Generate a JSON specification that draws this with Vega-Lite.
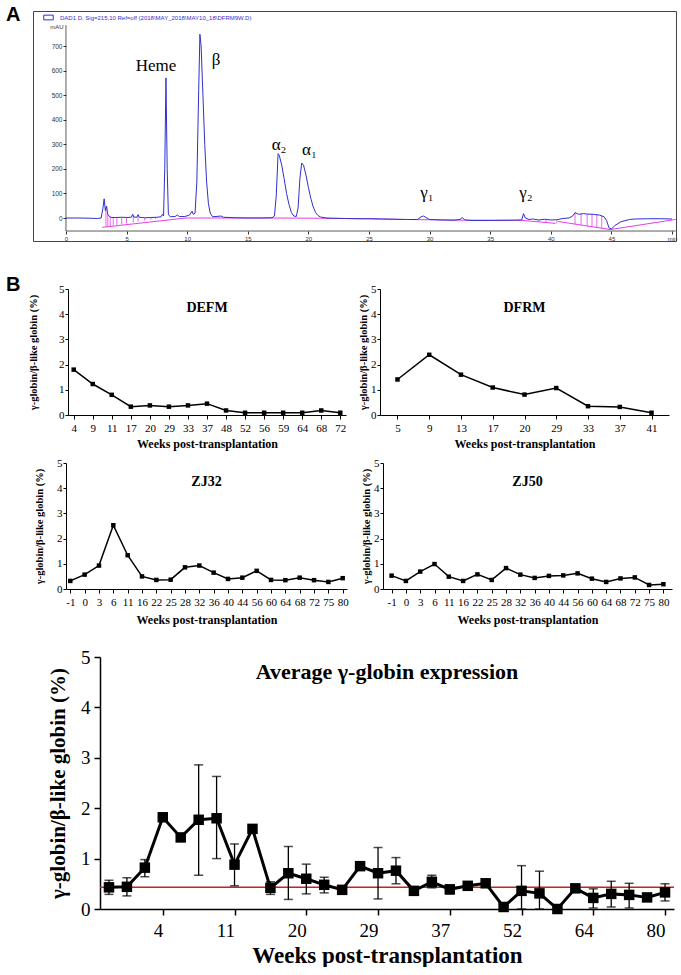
{
  "$schema": "https://vega.github.io/schema/vega-lite/v6.json",
  "padding": {"left": 6, "top": 5, "right": 0, "bottom": 0},
  "background": "white",
  "config": {
    "view": {"stroke": null},
    "font": "Liberation Serif",
    "axis": {"grid": false, "domainColor": "#000", "tickColor": "#000", "labelColor": "#000", "titleColor": "#000", "labelOverlap": false, "labelFlush": false}
  },
  "datasets": {
    "chrom": [
      {"t":0,"v":0},{"t":1,"v":0},{"t":2,"v":-1},{"t":2.6,"v":-2},{"t":2.9,"v":0},{"t":3.05,"v":40},{"t":3.15,"v":78},{"t":3.25,"v":30},{"t":3.35,"v":48},{"t":3.45,"v":15},{"t":3.6,"v":5},{"t":3.8,"v":2},{"t":4.2,"v":2},{"t":4.6,"v":3},{"t":5.0,"v":2},{"t":5.4,"v":3},{"t":5.5,"v":15},{"t":5.6,"v":4},{"t":5.85,"v":3},{"t":5.95,"v":14},{"t":6.05,"v":3},{"t":6.5,"v":1},{"t":7.0,"v":2},{"t":7.5,"v":3},{"t":7.85,"v":5},{"t":7.95,"v":15},{"t":8.05,"v":8},{"t":8.15,"v":200},{"t":8.25,"v":570},{"t":8.35,"v":200},{"t":8.45,"v":15},{"t":8.6,"v":5},{"t":9.0,"v":6},{"t":9.2,"v":12},{"t":9.35,"v":6},{"t":9.8,"v":6},{"t":10.2,"v":12},{"t":10.4,"v":28},{"t":10.5,"v":15},{"t":10.65,"v":20},{"t":10.8,"v":150},{"t":10.95,"v":520},{"t":11.05,"v":748},{"t":11.15,"v":700},{"t":11.3,"v":500},{"t":11.45,"v":300},{"t":11.6,"v":150},{"t":11.75,"v":60},{"t":11.9,"v":20},{"t":12.1,"v":5},{"t":12.8,"v":8},{"t":13.0,"v":3},{"t":14.0,"v":1},{"t":15.0,"v":0},{"t":16.0,"v":0},{"t":17.0,"v":1},{"t":17.2,"v":8},{"t":17.35,"v":90},{"t":17.5,"v":262},{"t":17.6,"v":255},{"t":17.8,"v":215},{"t":18.0,"v":160},{"t":18.2,"v":100},{"t":18.4,"v":55},{"t":18.6,"v":22},{"t":18.8,"v":8},{"t":19.0,"v":6},{"t":19.15,"v":40},{"t":19.3,"v":160},{"t":19.45,"v":224},{"t":19.6,"v":215},{"t":19.8,"v":175},{"t":20.0,"v":125},{"t":20.2,"v":80},{"t":20.4,"v":45},{"t":20.6,"v":22},{"t":20.8,"v":10},{"t":21.0,"v":4},{"t":21.5,"v":0},{"t":22,"v":-1},{"t":23,"v":-2},{"t":24,"v":-3},{"t":25,"v":-3},{"t":26,"v":-4},{"t":27,"v":-5},{"t":28,"v":-6},{"t":29,"v":-6},{"t":29.3,"v":5},{"t":29.5,"v":8},{"t":29.7,"v":2},{"t":30,"v":-6},{"t":31,"v":-8},{"t":32,"v":-9},{"t":32.5,"v":-6},{"t":32.7,"v":2},{"t":32.9,"v":-8},{"t":33.5,"v":-10},{"t":35,"v":-10},{"t":37,"v":-9},{"t":37.6,"v":-8},{"t":37.75,"v":18},{"t":37.9,"v":0},{"t":38.2,"v":-6},{"t":38.5,"v":-4},{"t":39,"v":-8},{"t":39.5,"v":-5},{"t":40,"v":-8},{"t":40.5,"v":-7},{"t":41.0,"v":-2},{"t":41.5,"v":0},{"t":41.8,"v":8},{"t":42.0,"v":22},{"t":42.3,"v":15},{"t":42.7,"v":18},{"t":43.0,"v":16},{"t":43.5,"v":15},{"t":44.0,"v":12},{"t":44.4,"v":5},{"t":44.6,"v":-10},{"t":44.8,"v":-40},{"t":45.0,"v":-45},{"t":45.3,"v":-30},{"t":45.8,"v":-15},{"t":46.5,"v":-6},{"t":47,"v":-4},{"t":48,"v":-3},{"t":49,"v":-3},{"t":50,"v":-4}
    ],
    "base": [
      {"seg":"a","t":3.0,"v":-38},{"seg":"a","t":9.9,"v":0},{"seg":"a","t":12,"v":0},{"seg":"a","t":17,"v":0},{"seg":"a","t":21,"v":-1},{"seg":"a","t":25,"v":-3},{"seg":"a","t":28,"v":-6},{"seg":"a","t":33,"v":-9},{"seg":"a","t":37.5,"v":-9},{"seg":"a","t":40.4,"v":-22},
      {"seg":"b","t":40.6,"v":-14},{"seg":"b","t":44.9,"v":-47},{"seg":"b","t":50.3,"v":-6}
    ],
    "drops": [
      {"t":3.3,"top":45,"bot":-36},{"t":3.45,"top":15,"bot":-35},{"t":3.65,"top":4,"bot":-33},{"t":3.9,"top":2,"bot":-31},{"t":4.2,"top":2,"bot":-29},{"t":4.6,"top":3,"bot":-26},{"t":5.0,"top":2,"bot":-22},{"t":5.55,"top":12,"bot":-18},{"t":5.95,"top":12,"bot":-15},{"t":6.5,"top":1,"bot":-11},{"t":7.0,"top":2,"bot":-7},{"t":7.4,"top":3,"bot":-4},
      {"t":39.0,"top":-8,"bot":-16},{"t":39.6,"top":-6,"bot":-19},{"t":40.5,"top":-7,"bot":-22},{"t":42.0,"top":22,"bot":-26},{"t":42.5,"top":17,"bot":-30},{"t":43.0,"top":16,"bot":-34},{"t":43.4,"top":15,"bot":-37},{"t":43.8,"top":14,"bot":-40},{"t":44.2,"top":9,"bot":-43}
    ],
    "peaks": [
      {"label":"Heme","t":7.43,"v":619},{"label":"β","t":12.38,"v":643},{"label":"α₂","t":17.58,"v":297},{"label":"α₁","t":20.09,"v":277},{"label":"γ₁","t":29.79,"v":102},{"label":"γ₂","t":37.96,"v":102}
    ],
    "defm": [
      {"week":"4","pct":1.8},{"week":"9","pct":1.23},{"week":"11","pct":0.8},{"week":"17","pct":0.33},{"week":"20","pct":0.38},{"week":"29","pct":0.33},{"week":"33","pct":0.38},{"week":"37","pct":0.45},{"week":"48","pct":0.18},{"week":"52","pct":0.09},{"week":"56","pct":0.09},{"week":"59","pct":0.09},{"week":"64","pct":0.09},{"week":"68","pct":0.18},{"week":"72","pct":0.09}
    ],
    "dfrm": [
      {"week":"5","pct":1.41},{"week":"9","pct":2.39},{"week":"13","pct":1.6},{"week":"17","pct":1.09},{"week":"20","pct":0.81},{"week":"29","pct":1.07},{"week":"33","pct":0.35},{"week":"37","pct":0.32},{"week":"41","pct":0.09}
    ],
    "zj32": [
      {"week":"-1","pct":0.32},{"week":"0","pct":0.57},{"week":"3","pct":0.93},{"week":"6","pct":2.53},{"week":"11","pct":1.34},{"week":"16","pct":0.5},{"week":"22","pct":0.36},{"week":"25","pct":0.37},{"week":"28","pct":0.86},{"week":"32","pct":0.93},{"week":"36","pct":0.65},{"week":"40","pct":0.4},{"week":"44","pct":0.45},{"week":"56","pct":0.72},{"week":"60","pct":0.36},{"week":"64","pct":0.35},{"week":"68","pct":0.45},{"week":"72","pct":0.35},{"week":"75","pct":0.28},{"week":"80","pct":0.43}
    ],
    "zj50": [
      {"week":"-1","pct":0.53},{"week":"0","pct":0.32},{"week":"3","pct":0.69},{"week":"6","pct":0.99},{"week":"11","pct":0.49},{"week":"16","pct":0.32},{"week":"22","pct":0.58},{"week":"25","pct":0.36},{"week":"28","pct":0.83},{"week":"32","pct":0.57},{"week":"36","pct":0.44},{"week":"40","pct":0.52},{"week":"44","pct":0.54},{"week":"56","pct":0.62},{"week":"60","pct":0.41},{"week":"64","pct":0.28},{"week":"68","pct":0.42},{"week":"72","pct":0.46},{"week":"75","pct":0.16},{"week":"80","pct":0.19}
    ],
    "avg": [
      {"week":"-1","mean":0.43,"lo":0.29,"hi":0.57},{"week":"0","mean":0.44,"lo":0.26,"hi":0.62},{"week":"3","mean":0.82,"lo":0.64,"hi":0.98},{"week":"4","mean":1.82,"lo":null,"hi":null},{"week":"5","mean":1.42,"lo":null,"hi":null},{"week":"6","mean":1.77,"lo":0.67,"hi":2.86},{"week":"9","mean":1.8,"lo":1.0,"hi":2.63},{"week":"11","mean":0.88,"lo":0.46,"hi":1.29},{"week":"13","mean":1.59,"lo":null,"hi":null},{"week":"16","mean":0.42,"lo":0.29,"hi":0.54},{"week":"17","mean":0.71,"lo":0.19,"hi":1.24},{"week":"20","mean":0.6,"lo":0.3,"hi":0.89},{"week":"22","mean":0.48,"lo":0.32,"hi":0.63},{"week":"25","mean":0.38,"lo":null,"hi":null},{"week":"28","mean":0.85,"lo":null,"hi":null},{"week":"29","mean":0.71,"lo":0.2,"hi":1.22},{"week":"32","mean":0.76,"lo":0.5,"hi":1.02},{"week":"33","mean":0.36,"lo":null,"hi":null},{"week":"36","mean":0.54,"lo":0.42,"hi":0.67},{"week":"37","mean":0.39,"lo":0.3,"hi":0.47},{"week":"40","mean":0.46,"lo":null,"hi":null},{"week":"44","mean":0.51,"lo":null,"hi":null},{"week":"48","mean":0.04,"lo":null,"hi":null},{"week":"52","mean":0.36,"lo":0.0,"hi":0.86},{"week":"56","mean":0.31,"lo":0.0,"hi":0.75},{"week":"59","mean":0.0,"lo":null,"hi":null},{"week":"60","mean":0.41,"lo":null,"hi":null},{"week":"64","mean":0.22,"lo":0.02,"hi":0.4},{"week":"68","mean":0.3,"lo":0.04,"hi":0.55},{"week":"72","mean":0.28,"lo":0.02,"hi":0.51},{"week":"75","mean":0.23,"lo":null,"hi":null},{"week":"80","mean":0.33,"lo":0.16,"hi":0.5}
    ],
    "ref": [{"pre":0.43}]
  },
  "spacing": 8,
  "vconcat": [
    {
      "spacing": 33,
      "vconcat": [
        {
          "bounds": "flush",
          "spacing": 26,
          "hconcat": [
            {
              "width": 1, "height": 1,
              "title": {"text": "A", "anchor": "start", "frame": "group", "offset": -14, "fontSize": 20, "font": "Liberation Sans", "fontWeight": "bold", "color": "#000"},
              "data": {"values": [{}]},
              "mark": {"type": "point", "size": 0, "opacity": 0},
              "encoding": {}
            },
            {
              "width": 643, "height": 230,
              "view": {"stroke": "#444", "strokeWidth": 1},
              "layer": [
                {
                  "data": {"name": "base"},
                  "mark": {"type": "line", "color": "#e83ee8", "strokeWidth": 1},
                  "encoding": {
                    "x": {"field": "t", "type": "quantitative", "scale": {"domain": [-2.72, 50.33], "nice": false, "zero": false},
                      "axis": {"orient": "bottom", "offset": -10, "values": [0,5,10,15,20,25,30,35,40,45,50], "tickCount": 30, "format": "d", "labelExpr": "datum.value == 50 ? 'min' : datum.label", "labelFontSize": 6, "labelFont": "Liberation Sans", "labelColor": "#333", "labelOverlap": false, "tickSize": 3, "tickColor": "#333", "labelPadding": 1, "domain": false, "title": null}},
                    "y": {"field": "v", "type": "quantitative", "scale": {"domain": [-93.6, 842.5], "nice": false, "zero": false},
                      "axis": {"offset": -33, "values": [0,100,200,300,400,500,600,700], "tickCount": 20, "format": "d", "labelFontSize": 6.5, "labelFont": "Liberation Sans", "labelColor": "#333", "labelOverlap": false, "labelSeparation": 0, "tickSize": 3, "tickColor": "#333", "labelPadding": 1, "domain": false, "title": "mAU", "titleAngle": 0, "titleFontSize": 6, "titleFont": "Liberation Sans", "titleFontWeight": "normal", "titleColor": "#333", "titleX": -3, "titleY": 15, "titleAlign": "right", "titleBaseline": "middle"}},
                    "detail": {"field": "seg"}
                  }
                },
                {
                  "data": {"name": "drops"},
                  "mark": {"type": "rule", "color": "#e83ee8", "strokeWidth": 0.8},
                  "encoding": {
                    "x": {"field": "t", "type": "quantitative"},
                    "y": {"field": "top", "type": "quantitative"},
                    "y2": {"field": "bot"}
                  }
                },
                {
                  "data": {"name": "chrom"},
                  "mark": {"type": "line", "strokeWidth": 1},
                  "encoding": {
                    "x": {"field": "t", "type": "quantitative"},
                    "y": {"field": "v", "type": "quantitative"},
                    "color": {"datum": "DAD1 D, Sig=215,10 Ref=off (2018\\MAY_2018\\MAY10_18\\DFRM9W.D)", "type": "nominal", "scale": {"range": ["#3030d0"]},
                      "legend": {"orient": "none", "legendX": 37, "legendY": 1, "title": null, "labelFontSize": 6, "labelFont": "Liberation Sans", "labelColor": "#3030d0", "labelLimit": 600, "symbolType": "M-1,-0.5H1V0.5H-1Z", "symbolSize": 90, "symbolStrokeWidth": 1, "symbolFillColor": "transparent", "symbolStrokeColor": "#3030d0", "padding": 0, "labelOffset": 6}}
                  }
                },
                {
                  "data": {"values": [{}]},
                  "mark": {"type": "rule", "color": "#333", "strokeWidth": 0.8},
                  "encoding": {"x": {"datum": 0}, "y": {"datum": -53}, "y2": {"datum": 785}}
                },
                {
                  "data": {"values": [{}]},
                  "mark": {"type": "rule", "color": "#333", "strokeWidth": 0.8},
                  "encoding": {"x": {"datum": 0}, "x2": {"datum": 50.3}, "y": {"datum": -53}}
                },
                {
                  "data": {"name": "peaks"},
                  "mark": {"type": "text", "font": "Liberation Serif", "fontSize": 17, "color": "#000", "baseline": "middle", "align": "center"},
                  "encoding": {
                    "x": {"field": "t", "type": "quantitative"},
                    "y": {"field": "v", "type": "quantitative"},
                    "text": {"field": "label"}
                  }
                }
              ]
            }
          ]
        },
        {
          "bounds": "flush",
          "spacing": 61,
          "hconcat": [
            {
              "width": 1, "height": 1,
              "title": {"text": "B", "anchor": "start", "frame": "group", "offset": -6, "fontSize": 20, "font": "Liberation Sans", "fontWeight": "bold", "color": "#000"},
              "data": {"values": [{}]},
              "mark": {"type": "point", "size": 0, "opacity": 0},
              "encoding": {}
            },
            {
              "bounds": "flush",
              "spacing": 34,
              "hconcat": [
                {
                  "width": 278, "height": 126,
                  "data": {"name": "defm"},
                  "title": {"text": "DEFM", "fontSize": 14, "fontWeight": "bold", "font": "Liberation Serif", "anchor": "middle", "frame": "group", "offset": -32, "color": "#000"},
                  "encoding": {
                    "x": {"field": "week", "type": "ordinal", "scale": {"type": "point", "padding": 0.3, "domain": ["4","9","11","17","20","29","33","37","48","52","56","59","64","68","72"]},
                      "axis": {"title": "Weeks post-transplantation", "labelAngle": 0, "labelFontSize": 11, "labelPadding": 3, "tickSize": 4, "titleFontSize": 12, "titleFontWeight": "bold", "titlePadding": 5}},
                    "y": {"field": "pct", "type": "quantitative", "scale": {"domain": [0, 5], "nice": false},
                      "axis": {"values": [0,1,2,3,4,5], "format": "d", "title": "γ-globin/β-like globin (%)", "labelFontSize": 11, "tickSize": 3, "labelPadding": 1, "titleFontSize": 10.5, "titleFontWeight": "bold", "titlePadding": 20}}
                  },
                  "layer": [
                    {"mark": {"type": "line", "color": "#000", "strokeWidth": 1.5}},
                    {"mark": {"type": "square", "color": "#000", "size": 20, "opacity": 1}}
                  ]
                },
                {
                  "width": 289, "height": 126,
                  "data": {"name": "dfrm"},
                  "title": {"text": "DFRM", "fontSize": 14, "fontWeight": "bold", "font": "Liberation Serif", "anchor": "middle", "frame": "group", "offset": -32, "color": "#000"},
                  "encoding": {
                    "x": {"field": "week", "type": "ordinal", "scale": {"type": "point", "padding": 0.55, "domain": ["5","9","13","17","20","29","33","37","41"]},
                      "axis": {"title": "Weeks post-transplantation", "labelAngle": 0, "labelFontSize": 11, "labelPadding": 3, "tickSize": 4, "titleFontSize": 12, "titleFontWeight": "bold", "titlePadding": 5}},
                    "y": {"field": "pct", "type": "quantitative", "scale": {"domain": [0, 5], "nice": false},
                      "axis": {"values": [0,1,2,3,4,5], "format": "d", "title": "γ-globin/β-like globin (%)", "labelFontSize": 11, "tickSize": 3, "labelPadding": 1, "titleFontSize": 10.5, "titleFontWeight": "bold", "titlePadding": 2}}
                  },
                  "layer": [
                    {"mark": {"type": "line", "color": "#000", "strokeWidth": 1.5}},
                    {"mark": {"type": "square", "color": "#000", "size": 20, "opacity": 1}}
                  ]
                }
              ]
            }
          ]
        }
      ]
    },
    {
      "spacing": 23,
      "vconcat": [
        {
          "bounds": "flush",
          "spacing": 59,
          "hconcat": [
            {
              "width": 1, "height": 1,
              "data": {"values": [{}]},
              "mark": {"type": "point", "size": 0, "opacity": 0},
              "encoding": {}
            },
            {
              "bounds": "flush",
              "spacing": 36,
              "hconcat": [
                {
                  "width": 281, "height": 126,
                  "data": {"name": "zj32"},
                  "title": {"text": "ZJ32", "fontSize": 14, "fontWeight": "bold", "font": "Liberation Serif", "anchor": "middle", "frame": "group", "offset": -32, "color": "#000"},
                  "encoding": {
                    "x": {"field": "week", "type": "ordinal", "scale": {"type": "point", "padding": 0.3, "domain": ["-1","0","3","6","11","16","22","25","28","32","36","40","44","56","60","64","68","72","75","80"]},
                      "axis": {"title": "Weeks post-transplantation", "labelAngle": 0, "labelFontSize": 11, "labelPadding": 3, "tickSize": 4, "titleFontSize": 12, "titleFontWeight": "bold", "titlePadding": 7}},
                    "y": {"field": "pct", "type": "quantitative", "scale": {"domain": [0, 5], "nice": false},
                      "axis": {"values": [0,1,2,3,4,5], "format": "d", "title": "γ-globin/β-like globin (%)", "labelFontSize": 11, "tickSize": 3, "labelPadding": 1, "titleFontSize": 10.5, "titleFontWeight": "bold", "titlePadding": 12}}
                  },
                  "layer": [
                    {"mark": {"type": "line", "color": "#000", "strokeWidth": 1.5}},
                    {"mark": {"type": "square", "color": "#000", "size": 20, "opacity": 1}}
                  ]
                },
                {
                  "width": 289, "height": 126,
                  "data": {"name": "zj50"},
                  "title": {"text": "ZJ50", "fontSize": 14, "fontWeight": "bold", "font": "Liberation Serif", "anchor": "middle", "frame": "group", "offset": -32, "color": "#000"},
                  "encoding": {
                    "x": {"field": "week", "type": "ordinal", "scale": {"type": "point", "padding": 0.6, "domain": ["-1","0","3","6","11","16","22","25","28","32","36","40","44","56","60","64","68","72","75","80"]},
                      "axis": {"title": "Weeks post-transplantation", "labelAngle": 0, "labelFontSize": 11, "labelPadding": 3, "tickSize": 4, "titleFontSize": 12, "titleFontWeight": "bold", "titlePadding": 7}},
                    "y": {"field": "pct", "type": "quantitative", "scale": {"domain": [0, 5], "nice": false},
                      "axis": {"values": [0,1,2,3,4,5], "format": "d", "title": "γ-globin/β-like globin (%)", "labelFontSize": 11, "tickSize": 3, "labelPadding": 1, "titleFontSize": 10.5, "titleFontWeight": "bold", "titlePadding": 2}}
                  },
                  "layer": [
                    {"mark": {"type": "line", "color": "#000", "strokeWidth": 1.5}},
                    {"mark": {"type": "square", "color": "#000", "size": 20, "opacity": 1}}
                  ]
                }
              ]
            }
          ]
        },
        {
          "bounds": "flush",
          "spacing": 93,
          "hconcat": [
            {
              "width": 1, "height": 1,
              "data": {"values": [{}]},
              "mark": {"type": "point", "size": 0, "opacity": 0},
              "encoding": {}
            },
            {
              "width": 574, "height": 252,
              "title": {"text": "Average γ-globin expression", "fontSize": 22, "fontWeight": "bold", "font": "Liberation Serif", "anchor": "middle", "frame": "group", "offset": -36, "color": "#000"},
              "layer": [
                {
                  "data": {"name": "ref"},
                  "mark": {"type": "rule", "color": "#cc1f1f", "strokeWidth": 1.5},
                  "encoding": {"y": {"field": "pre", "type": "quantitative", "scale": {"domain": [0, 5], "nice": false}}}
                },
                {
                  "data": {"name": "avg"},
                  "mark": {"type": "rule", "color": "#000", "strokeWidth": 1.3},
                  "encoding": {
                    "x": {"field": "week", "type": "ordinal", "scale": {"type": "point", "padding": 0.5, "domain": ["-1","0","3","4","5","6","9","11","13","16","17","20","22","25","28","29","32","33","36","37","40","44","48","52","56","59","60","64","68","72","75","80"]}},
                    "y": {"field": "lo", "type": "quantitative", "scale": {"domain": [0, 5], "nice": false}},
                    "y2": {"field": "hi"}
                  }
                },
                {
                  "data": {"name": "avg"},
                  "mark": {"type": "tick", "color": "#000", "size": 9, "thickness": 1.5},
                  "encoding": {
                    "x": {"field": "week", "type": "ordinal"},
                    "y": {"field": "lo", "type": "quantitative"}
                  }
                },
                {
                  "data": {"name": "avg"},
                  "mark": {"type": "tick", "color": "#000", "size": 9, "thickness": 1.5},
                  "encoding": {
                    "x": {"field": "week", "type": "ordinal"},
                    "y": {"field": "hi", "type": "quantitative"}
                  }
                },
                {
                  "data": {"name": "avg"},
                  "mark": {"type": "line", "color": "#000", "strokeWidth": 3},
                  "encoding": {
                    "x": {"field": "week", "type": "ordinal",
                      "axis": {"values": ["4","11","20","29","37","52","64","80"], "title": "Weeks post-transplantation", "labelAngle": 0, "labelFontSize": 19, "labelPadding": 15, "tickSize": 6, "tickWidth": 1.5, "domainWidth": 1.5, "titleFontSize": 23, "titleFontWeight": "bold", "titlePadding": 4}},
                    "y": {"field": "mean", "type": "quantitative",
                      "axis": {"values": [0,1,2,3,4,5], "format": "d", "title": "γ-globin/β-like globin (%)", "labelFontSize": 19, "tickSize": 6, "tickWidth": 1.5, "domainWidth": 1.5, "labelPadding": 4, "titleFontSize": 21, "titleFontWeight": "bold", "titlePadding": 12}}
                  }
                },
                {
                  "data": {"name": "avg"},
                  "mark": {"type": "square", "color": "#000", "size": 110, "opacity": 1},
                  "encoding": {
                    "x": {"field": "week", "type": "ordinal"},
                    "y": {"field": "mean", "type": "quantitative"}
                  }
                }
              ]
            }
          ]
        }
      ]
    }
  ]
}
